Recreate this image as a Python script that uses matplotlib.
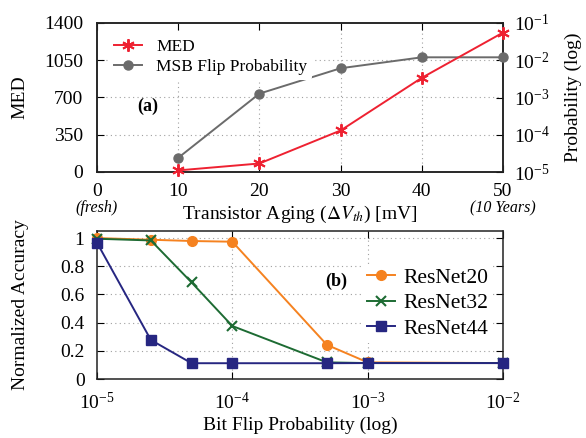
import matplotlib
matplotlib.use("Agg")
import matplotlib.pyplot as plt
import matplotlib.transforms as mtransforms

plt.rcParams['font.family'] = ['Liberation Serif', 'DejaVu Serif']
plt.rcParams['mathtext.fontset'] = 'stix'

# ---- data (a)
aging = [10, 20, 30, 40, 50]
med = [15, 80, 390, 885, 1310]
msb_prob = [2.4e-5, 1.27e-3, 6.1e-3, 1.2e-2, 1.2e-2]
aging_ticks = [0, 10, 20, 30, 40, 50]
med_ticks = [0, 350, 700, 1050, 1400]

# ---- data (b)
flip_prob = [1e-5, 2.5e-5, 5e-5, 1e-4, 5e-4, 1e-3, 1e-2]
resnet20 = [1.0, 0.988, 0.979, 0.974, 0.242, 0.118, 0.113]
resnet32 = [0.995, 0.983, 0.685, 0.376, 0.118, 0.113, 0.113]
resnet44 = [0.967, 0.277, 0.112, 0.112, 0.112, 0.113, 0.113]

RED = '#ee2131'
GRAY = '#6b6b6b'
ORANGE = '#f58220'
GREEN = '#1d6b33'
NAVY = '#262681'

fig = plt.figure(figsize=(5.86, 4.38), dpi=100)
L, R = 97 / 586, 503 / 586
axa = fig.add_axes([L, 1 - 172 / 438, R - L, (172 - 23) / 438])
axb = fig.add_axes([L, 1 - 379 / 438, R - L, (379 - 231) / 438])

TICK_FS = 14
LABEL_FS = 14
grid_kw = dict(color='#a0a0a0', linestyle=(0, (1, 3)), linewidth=0.8)

for ax in (axa, axb):
    for s in ax.spines.values():
        s.set_linewidth(1.1)
        s.set_color('#222222')

# ---------- (a)
axa.set_xlim(0, 50)
axa.set_ylim(0, 1400)
axa.set_xticks(aging_ticks)
axa.set_yticks(med_ticks)
axa.tick_params(direction='in', length=5, width=0.8, labelsize=TICK_FS, pad=10,
                top=True, right=False)
axa.tick_params(axis='x', pad=8)
for x in aging_ticks[1:-1]:
    axa.axvline(x, zorder=0, **grid_kw)
for y in med_ticks[1:-1]:
    axa.axhline(y, zorder=0, **grid_kw)

axa2 = axa.twinx()
axa2.set_yscale('log')
axa2.set_ylim(1e-5, 1e-1)
axa2.set_yticks([1e-5, 1e-4, 1e-3, 1e-2, 1e-1])
axa2.minorticks_off()
axa2.tick_params(direction='in', length=5, width=0.8, labelsize=TICK_FS, pad=8)
for s in axa2.spines.values():
    s.set_linewidth(1.1)
    s.set_color('#222222')

l2, = axa2.plot(aging, msb_prob, color=GRAY, marker='o', markersize=6.5,
                linewidth=1.4, label='MSB Flip Probability', clip_on=False, zorder=3)
l1, = axa2.plot([], [], color=RED, marker=(6, 2, 0), markersize=9, linewidth=1.4,
                markeredgewidth=1.4, label='MED')
axa_med = axa.twinx()
axa_med.set_ylim(0, 1400)
axa_med.axis('off')
axa_med.plot(aging, med, color=RED, marker=(6, 2, 0), markersize=9, linewidth=1.4,
             markeredgewidth=1.4, clip_on=False, zorder=4)

leg = axa_med.legend(handles=[l1, l2], loc='upper left', bbox_to_anchor=(0.03, 0.93),
                     frameon=True, fontsize=12.5, handlelength=1.6, handletextpad=0.8,
                     borderaxespad=0, borderpad=0.3, labelspacing=0.25)
leg.get_frame().set_facecolor('white')
leg.get_frame().set_edgecolor('none')
leg.get_frame().set_alpha(1)

axa.text(6.3, 620, '(a)', fontsize=13, fontweight='bold', ha='center', va='center')
axa.set_ylabel('MED', fontsize=LABEL_FS)
axa.yaxis.set_label_coords(-0.168, 0.5)
axa2.set_ylabel('Probability (log)', fontsize=LABEL_FS)
axa2.yaxis.set_label_coords(1.153, 0.5)
axa.set_xlabel(r'Transistor Aging ($\Delta V_{th}$) [mV]', fontsize=LABEL_FS)
axa.xaxis.set_label_coords(0.5, -0.215)
trans = mtransforms.blended_transform_factory(axa.transData, fig.transFigure)
axa.text(0, 1 - 208 / 438, '(fresh)', transform=trans, fontsize=11.5,
         style='italic', ha='center', va='center')
axa.text(50, 1 - 208 / 438, '(10 Years)', transform=trans, fontsize=11.5,
         style='italic', ha='center', va='center')

# ---------- (b)
axb.set_xscale('log')
axb.set_xlim(1e-5, 1e-2)
axb.set_ylim(0, 1.05)
axb.set_yticks([0, 0.2, 0.4, 0.6, 0.8, 1.0])
axb.set_yticklabels(['0', '0.2', '0.4', '0.6', '0.8', '1'])
axb.minorticks_off()
axb.tick_params(direction='in', length=5, width=0.8, labelsize=TICK_FS, pad=9,
                top=True, right=True)
axb.tick_params(axis='x', pad=9)
for x in [1e-4, 1e-3]:
    axb.axvline(x, zorder=0, **grid_kw)
for y in [0.2, 0.4, 0.6, 0.8, 1.0]:
    axb.axhline(y, zorder=0, **grid_kw)

axb.plot(flip_prob, resnet20, color=ORANGE, marker='o', markersize=7,
         linewidth=1.4, label='ResNet20', clip_on=False, zorder=3)
axb.plot(flip_prob, resnet32, color=GREEN, marker='x', markersize=7,
         markeredgewidth=1.5, linewidth=1.4, label='ResNet32', clip_on=False, zorder=4)
axb.plot(flip_prob, resnet44, color=NAVY, marker='s', markersize=7,
         linewidth=1.4, label='ResNet44', clip_on=False, zorder=5)

legb = axb.legend(loc='upper left', bbox_to_anchor=(0.655, 0.78), frameon=True,
                  fontsize=15.5, handlelength=1.3, handletextpad=0.4,
                  borderaxespad=0, borderpad=0.2, labelspacing=0.25)
legb.get_frame().set_facecolor('white')
legb.get_frame().set_edgecolor('none')
legb.get_frame().set_alpha(1)

axb.text(5.9e-4, 0.69, '(b)', fontsize=13, fontweight='bold', ha='center', va='center',
         bbox=dict(facecolor='white', edgecolor='none', pad=1))
axb.set_ylabel('Normalized Accuracy', fontsize=LABEL_FS)
axb.yaxis.set_label_coords(-0.168, 0.5)
axb.set_xlabel('Bit Flip Probability (log)', fontsize=LABEL_FS)
axb.xaxis.set_label_coords(0.5, -0.255)

fig.savefig('out.png', dpi=100)
